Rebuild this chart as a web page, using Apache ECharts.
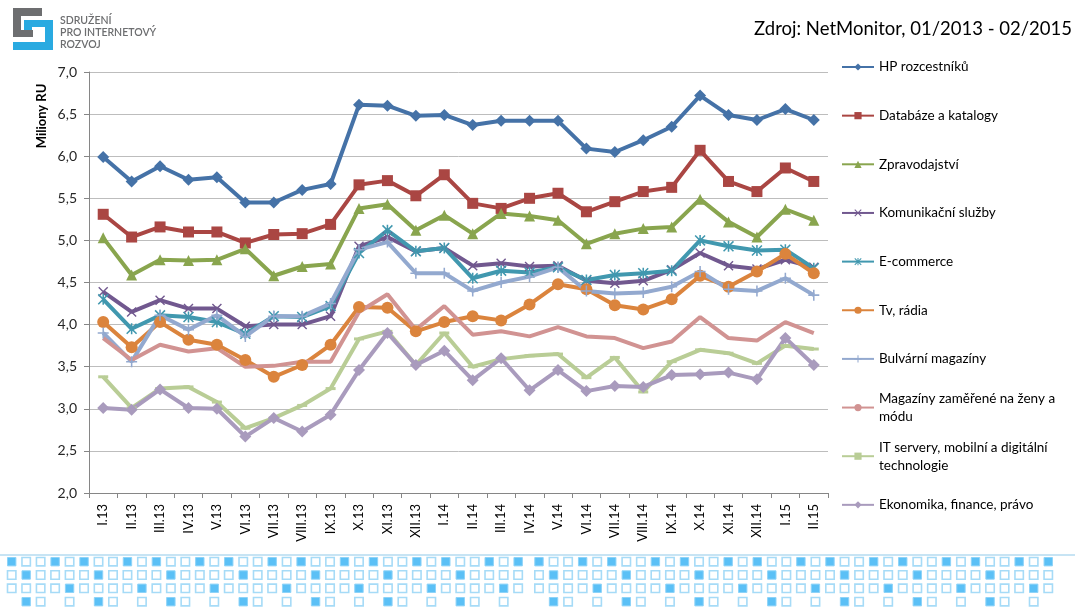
<!DOCTYPE html>
<html>
<head>
<meta charset="utf-8">
<title>NetMonitor</title>
<script src="https://cdn.jsdelivr.net/npm/echarts@6/dist/echarts.min.js"></script>
<style>
  html, body { margin: 0; padding: 0; background: #fff; }
  #chart { width: 1075px; height: 607px; }
</style>
</head>
<body>
<div id="chart"></div>
<script>
// mesice 01/2013 - 02/2015
var months = ["I.13", "II.13", "III.13", "IV.13", "V.13", "VI.13", "VII.13", "VIII.13", "IX.13", "X.13", "XI.13", "XII.13",
  "I.14", "II.14", "III.14", "IV.14", "V.14", "VI.14", "VII.14", "VIII.14", "IX.14", "X.14", "XI.14", "XII.14", "I.15", "II.15"];

var hp = [5.99, 5.70, 5.88, 5.72, 5.75, 5.45, 5.45, 5.60, 5.67, 6.61, 6.60, 6.48, 6.49, 6.37, 6.42, 6.42, 6.42, 6.09, 6.05, 6.19, 6.35, 6.72, 6.49, 6.43, 6.56, 6.43];
var databaze = [5.31, 5.04, 5.16, 5.10, 5.10, 4.97, 5.07, 5.08, 5.19, 5.66, 5.71, 5.53, 5.78, 5.44, 5.38, 5.50, 5.56, 5.34, 5.46, 5.58, 5.63, 6.07, 5.70, 5.58, 5.86, 5.70];
var zpravodajstvi = [5.03, 4.59, 4.77, 4.76, 4.77, 4.90, 4.58, 4.69, 4.72, 5.38, 5.43, 5.12, 5.30, 5.08, 5.32, 5.29, 5.24, 4.96, 5.08, 5.14, 5.16, 5.49, 5.22, 5.04, 5.37, 5.24];
var komunikace = [4.39, 4.15, 4.29, 4.19, 4.19, 3.98, 4.00, 4.00, 4.10, 4.93, 5.04, 4.87, 4.91, 4.70, 4.73, 4.69, 4.70, 4.52, 4.49, 4.52, 4.65, 4.85, 4.70, 4.66, 4.77, 4.68];
var ecommerce = [4.30, 3.95, 4.11, 4.09, 4.03, 3.89, 4.10, 4.09, 4.22, 4.85, 5.12, 4.87, 4.91, 4.55, 4.64, 4.62, 4.68, 4.53, 4.59, 4.61, 4.64, 5.00, 4.93, 4.88, 4.89, 4.67];
var tvRadia = [4.03, 3.73, 4.03, 3.82, 3.76, 3.58, 3.38, 3.52, 3.76, 4.21, 4.20, 3.92, 4.03, 4.10, 4.05, 4.24, 4.48, 4.42, 4.23, 4.18, 4.30, 4.58, 4.45, 4.63, 4.84, 4.61];
var bulvar = [3.90, 3.56, 4.11, 3.94, 4.11, 3.86, 4.10, 4.10, 4.25, 4.89, 4.98, 4.61, 4.61, 4.40, 4.50, 4.57, 4.68, 4.40, 4.37, 4.38, 4.45, 4.63, 4.42, 4.40, 4.55, 4.35];
var zeny = [3.84, 3.58, 3.76, 3.68, 3.72, 3.50, 3.51, 3.56, 3.56, 4.15, 4.36, 3.94, 4.22, 3.88, 3.92, 3.86, 3.97, 3.86, 3.84, 3.72, 3.80, 4.09, 3.84, 3.81, 4.03, 3.90];
var itServery = [3.38, 3.01, 3.24, 3.26, 3.08, 2.77, 2.89, 3.04, 3.24, 3.83, 3.92, 3.52, 3.90, 3.50, 3.59, 3.63, 3.65, 3.37, 3.61, 3.20, 3.56, 3.70, 3.66, 3.54, 3.75, 3.71];
var ekonomika = [3.01, 2.99, 3.23, 3.01, 3.00, 2.67, 2.89, 2.73, 2.93, 3.46, 3.90, 3.52, 3.69, 3.34, 3.60, 3.22, 3.46, 3.21, 3.27, 3.26, 3.40, 3.41, 3.43, 3.35, 3.84, 3.52];

var seriesNames = ["HP rozcestníků", "Databáze a katalogy", "Zpravodajství", "Komunikační služby", "E-commerce",
  "Tv, rádia", "Bulvární magazíny", "Magazíny zaměřené na ženy a módu", "IT servery, mobilní a digitální technologie",
  "Ekonomika, finance, právo"];
var seriesData = [hp, databaze, zpravodajstvi, komunikace, ecommerce, tvRadia, bulvar, zeny, itServery, ekonomika];

var colors = ["#4572A7", "#AA4643", "#89A54E", "#71588F", "#4198AF", "#DB843D", "#93A9CF", "#D19392", "#B9CD96", "#A99BBD"];

// excel znacky
var xPath = "path://M0,1 L1,0 L10,9 L9,10 Z M9,0 L10,1 L1,10 L0,9 Z";
var starPath = "path://M0,1 L1,0 L10,9 L9,10 Z M9,0 L10,1 L1,10 L0,9 Z M4.3,0 L5.7,0 L5.7,10 L4.3,10 Z";
var plusPath = "path://M4.3,0 L5.7,0 L5.7,10 L4.3,10 Z M0,4.3 L10,4.3 L10,5.7 L0,5.7 Z";
var symbols = ["diamond", "rect", "triangle", xPath, starPath, "circle", plusPath, "none", "rect", "diamond"];
var symbolSizes = [12, 11, 11, 10, 11, 12, 11, 0, [10, 3], 12];

var font = "Lato, 'Open Sans', sans-serif";

var chart = echarts.init(document.getElementById("chart"));

var series = seriesNames.map(function (name, i) {
  return {
    name: name,
    type: "line",
    data: seriesData[i],
    symbol: symbols[i],
    symbolSize: symbolSizes[i],
    showSymbol: symbols[i] !== "none",
    lineStyle: { width: 4, color: colors[i] },
    itemStyle: { color: colors[i] },
    emphasis: { disabled: true },
    animation: false
  };
});

var legendCenterY = 67;
var legends = seriesNames.map(function (name, i) {
  var twoLines = name.length > 28;
  return {
    data: [name],
    left: 841,
    top: legendCenterY + 48.65 * i - (twoLines ? 27 : 9),
    padding: 0,
    itemWidth: 32,
    itemHeight: 9,
    selectedMode: false,
    formatter: function (n) {
      if (n === "Magazíny zaměřené na ženy a módu") return "Magazíny zaměřené na ženy a\nmódu";
      if (n === "IT servery, mobilní a digitální technologie") return "IT servery, mobilní a digitální\ntechnologie";
      return n;
    },
    textStyle: {
      fontFamily: font,
      fontSize: 13.5,
      color: "#000",
      lineHeight: 18,
      padding: twoLines ? [18, 0, 0, 0] : 0
    }
  };
});

// paticka se ctverecky (dve dlazdice)
var rowPatterns = [
  ["F", "e", "e", "F", "e"],
  ["e", "F", "e", "e", "e"],
  ["e", "e", "e", "e", "F"],
  ["", "F", "e", "", "e"]
];
var rowY = [561.7, 575, 588.3, 601.7];
var footer = [{
  type: "line",
  shape: { x1: 0, y1: 555, x2: 1075, y2: 555 },
  style: { stroke: "#b5dbf0", lineWidth: 1.5 }
}];
[[11.7, 14.47], [539, 14.55]].forEach(function (tile) {
  for (var c = 0; c < 36; c++) {
    for (var r = 0; r < 4; r++) {
      var kind = rowPatterns[r][c % 5];
      if (!kind) continue;
      var cx = tile[0] + c * tile[1];
      footer.push({
        type: "rect",
        shape: { x: cx - 4.2, y: rowY[r] - 4.2, width: 8.4, height: 8.4 },
        style: kind === "F"
          ? { fill: "#5bc0f6", stroke: "#8ed3f8", lineWidth: 1 }
          : { fill: "#fff", stroke: "#a6dbf7", lineWidth: 1.6 }
      });
    }
  }
});

var logo = [
  // sedy dil
  { type: "rect", shape: { x: 13, y: 8, width: 29, height: 8 }, style: { fill: "#6d6e70" } },
  { type: "rect", shape: { x: 13, y: 8, width: 8, height: 29 }, style: { fill: "#6d6e70" } },
  { type: "rect", shape: { x: 13, y: 30, width: 20, height: 7 }, style: { fill: "#6d6e70" } },
  // modry dil
  { type: "rect", shape: { x: 24, y: 20, width: 29, height: 7 }, style: { fill: "#29aae1" } },
  { type: "rect", shape: { x: 24, y: 20, width: 8, height: 10 }, style: { fill: "#29aae1" } },
  { type: "rect", shape: { x: 45, y: 20, width: 8, height: 30 }, style: { fill: "#29aae1" } },
  { type: "rect", shape: { x: 13, y: 42, width: 40, height: 8 }, style: { fill: "#29aae1" } },
  {
    type: "text", left: 60, top: 15,
    style: { text: "SDRUŽENÍ\nPRO INTERNETOVÝ\nROZVOJ", fill: "#6d6e70", font: "600 10.5px " + font, lineHeight: 12 }
  }
];

var option = {
  backgroundColor: "#fff",
  color: colors,
  animation: false,
  title: {
    text: "Zdroj: NetMonitor, 01/2013 - 02/2015",
    right: 3,
    top: 20,
    padding: 0,
    textStyle: { fontFamily: font, fontSize: 18.5, fontWeight: "normal", color: "#000" }
  },
  legend: legends,
  grid: { left: 89, right: 247, top: 72, bottom: 114 },
  xAxis: {
    type: "category",
    data: months,
    boundaryGap: true,
    axisLine: { lineStyle: { color: "#868686", width: 1 } },
    axisTick: { show: true, length: 5, lineStyle: { color: "#868686" } },
    axisLabel: { rotate: 90, margin: 11, fontFamily: font, fontSize: 13, color: "#000" },
    splitLine: { show: false }
  },
  yAxis: {
    type: "value",
    min: 2,
    max: 7,
    interval: 0.5,
    axisLine: { show: true, lineStyle: { color: "#868686", width: 1 } },
    axisTick: { show: true, length: 5, lineStyle: { color: "#868686" } },
    axisLabel: {
      margin: 12,
      fontFamily: font,
      fontSize: 14,
      color: "#262626",
      formatter: function (v) { return v.toFixed(1).replace(".", ","); }
    },
    splitLine: { lineStyle: { color: "#bdbdbd", width: 1 } }
  },
  graphic: logo.concat(footer).concat([{
    type: "text",
    x: 42,
    y: 116,
    rotation: Math.PI / 2,
    style: { text: "Miliony RU", font: "bold 13px " + font, fill: "#000", align: "center", verticalAlign: "middle" }
  }]),
  series: series
};

chart.setOption(option);
</script>
</body>
</html>
